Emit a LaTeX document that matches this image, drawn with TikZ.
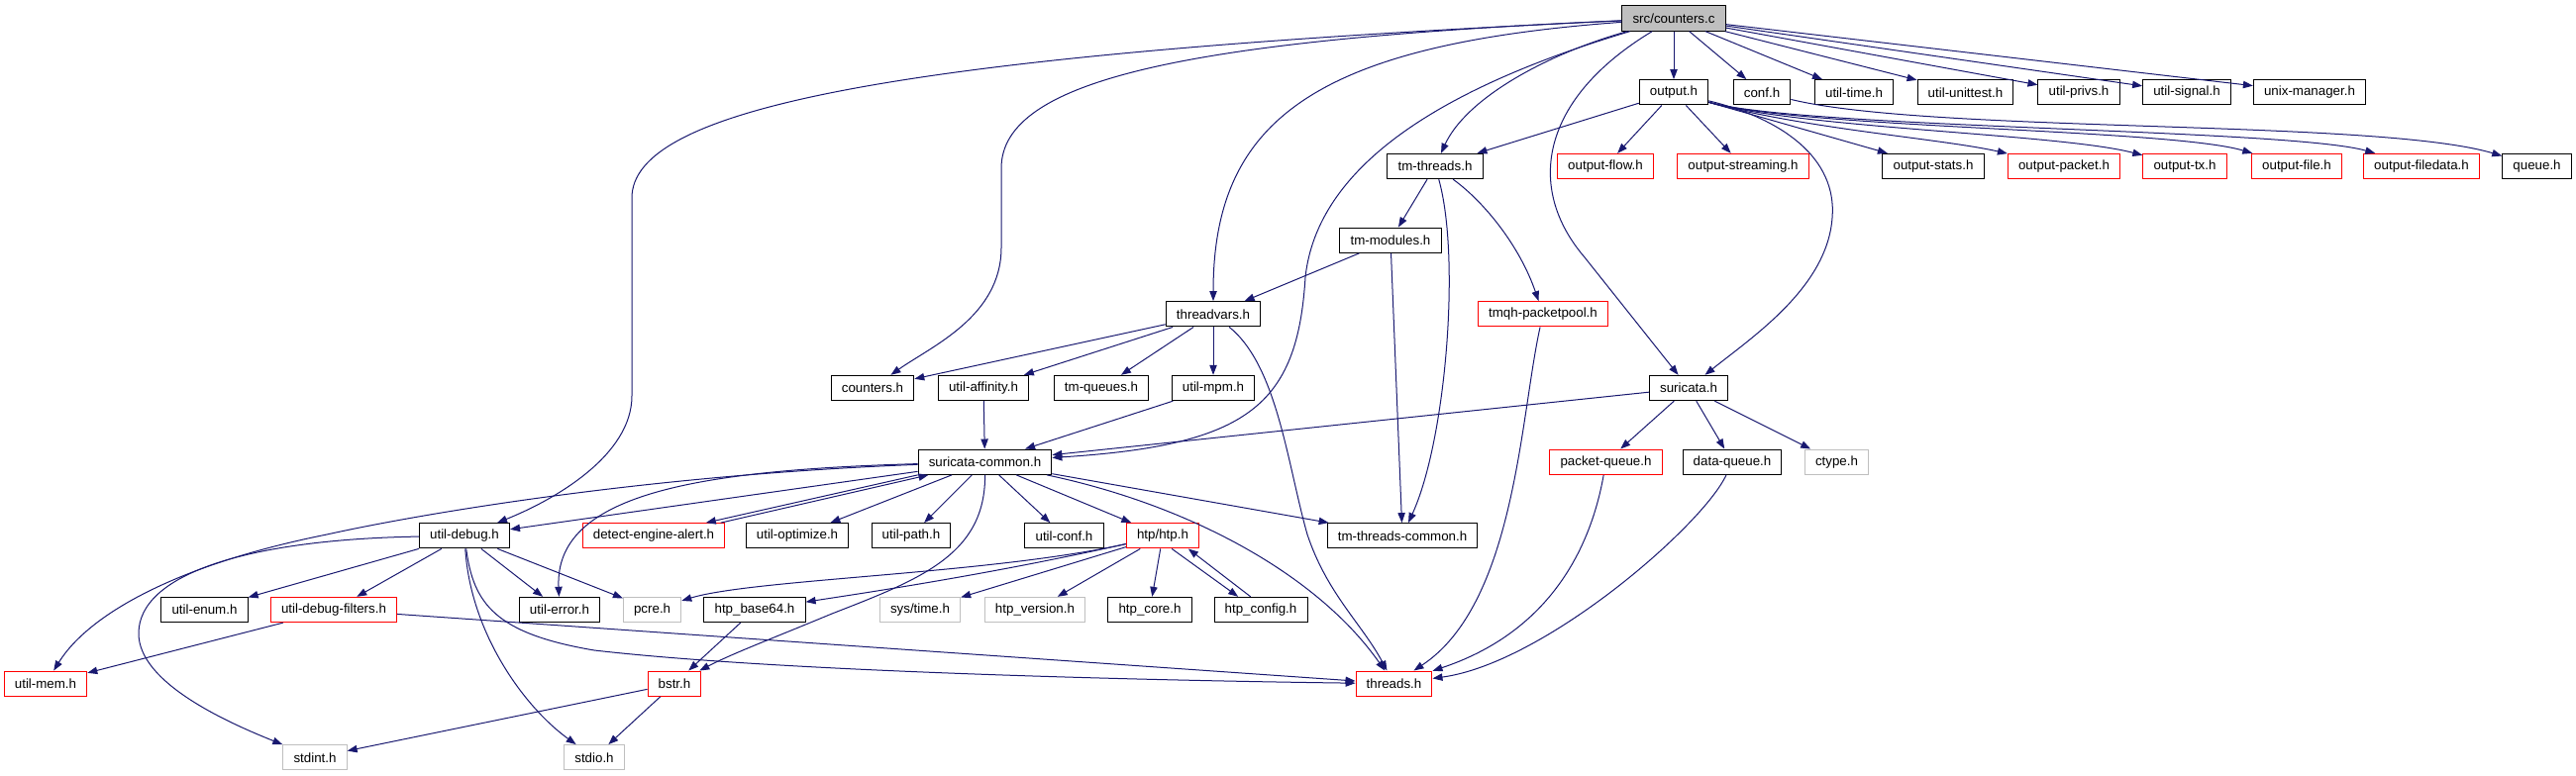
\documentclass[tikz,border=0pt]{standalone}
\usepackage{fontspec}
\setmainfont{Liberation Sans}
\usetikzlibrary{arrows.meta}
\definecolor{incblue}{HTML}{191970}
\definecolor{sysgray}{HTML}{BFBFBF}
\tikzset{
  hdr/.style={draw=black, line width=0.75pt, rectangle, minimum height=19pt,
    inner xsep=8pt, inner ysep=0pt, font=\fontsize{10}{12}\selectfont},
  hdrred/.style={hdr, draw=red},
  hdrsys/.style={hdr, draw=sysgray},
  inc/.style={incblue, line width=0.75pt, -{Triangle[length=7.5pt,width=5.5pt]}}
}
\begin{document}
\begin{tikzpicture}[x=0.75pt, y=-0.75pt]
\fill[white] (0,0) rectangle (2601,784);
\node[hdr, fill=sysgray] (root) at (1690,18.5) {src/counters.c};
\foreach \n/\x/\y/\t in {output/1690/93.3/{output.h}, conf/1779/93.3/{conf.h},
  utiltime/1872/93.3/{util-time.h}, unittest/1984.5/93.3/{util-unittest.h},
  privs/2099/93.3/{util-privs.h}, signal/2208/93.3/{util-signal.h},
  unixmgr/2332/93.3/{unix-manager.h}, tmthreads/1449/168/{tm-threads.h},
  ostats/1952/168/{output-stats.h}, queue/2561.5/168/{queue.h},
  tmmodules/1404/242.7/{tm-modules.h}, threadvars/1225/317.3/{threadvars.h},
  countersh/881/392/{counters.h}, affinity/993/392/{util-affinity.h},
  tmqueues/1112/392/{tm-queues.h}, mpm/1225/392/{util-mpm.h},
  suricata/1705/392/{suricata.h}, common/994.5/466.7/{suricata-common.h},
  dataqueue/1749/466.7/{data-queue.h}, debug/469/541.3/{util-debug.h},
  optimize/805/541.3/{util-optimize.h}, path/920/541.3/{util-path.h},
  utilconf/1074.5/541.3/{util-conf.h}, tmcommon/1416/541.3/{tm-threads-common.h},
  enum/206.5/616/{util-enum.h}, error/565/616/{util-error.h},
  base64/762/616/{htp\_base64.h}, core/1161/616/{htp\_core.h},
  config/1273/616/{htp\_config.h}}
  \node[hdr] (\n) at (\x,\y) {\t};
\foreach \n/\x/\y/\t in {oflow/1621/168/{output-flow.h}, ostream/1760/168/{output-streaming.h},
  opacket/2084/168/{output-packet.h}, otx/2206/168/{output-tx.h},
  ofile/2319/168/{output-file.h}, ofiledata/2445/168/{output-filedata.h},
  packetpool/1558/317.3/{tmqh-packetpool.h}, pktqueue/1621.5/466.7/{packet-queue.h},
  alert/660/541.3/{detect-engine-alert.h}, htp/1174/541.3/{htp/htp.h},
  filters/337/616/{util-debug-filters.h}, mem/46/690.7/{util-mem.h},
  bstr/681/690.7/{bstr.h}, threads/1407.5/690.7/{threads.h}}
  \node[hdrred] (\n) at (\x,\y) {\t};
\foreach \n/\x/\y/\t in {ctype/1854.5/466.7/{ctype.h}, pcre/658.6/616/{pcre.h},
  systime/929/616/{sys/time.h}, version/1045/616/{htp\_version.h},
  stdint/318/765.3/{stdint.h}, stdio/600/765.3/{stdio.h}}
  \node[hdrsys] (\n) at (\x,\y) {\t};

\foreach \a/\b in {root/output, root/conf, root/utiltime, root/unittest, root/privs,
  root/signal, root/unixmgr, output/tmthreads, output/oflow, output/ostream, output/ostats,
  tmthreads/tmmodules, tmmodules/threadvars, tmmodules/tmcommon,
  threadvars/countersh, threadvars/affinity, threadvars/tmqueues, threadvars/mpm,
  affinity/common, mpm/common, suricata/common, suricata/pktqueue,
  suricata/dataqueue, suricata/ctype, common/debug, common/optimize, common/path,
  common/utilconf, common/htp, common/tmcommon, htp/systime, htp/version, htp/core,
  debug/enum, debug/filters, debug/error, debug/pcre, filters/mem, filters/threads,
  base64/bstr, bstr/stdint, bstr/stdio}
  \draw[inc] (\a) -- (\b);

\draw[inc] (root) .. controls (900,55) and (638,110) .. (638,200) -- (638,400)
  .. controls (638,460) and (560,505) .. (debug);
\draw[inc] (root) .. controls (1200,40) and (1011,80) .. (1011,170) -- (1011,250)
  .. controls (1011,320) and (940,350) .. (countersh);
\draw[inc] (root) .. controls (1330,45) and (1225,120) .. (threadvars);
\draw[inc] (root) .. controls (1450,90) and (1330,170) .. (1318,280)
  .. controls (1310,410) and (1260,450) .. (common);
\draw[inc] (root) .. controls (1560,55) and (1480,100) .. (tmthreads);
\draw[inc] (root) .. controls (1555,100) and (1540,190) .. (1600,260) -- (suricata);

\draw[inc] (output) .. controls (1820,130) and (1960,140) .. (opacket);
\draw[inc] (output) .. controls (1820,130) and (2080,135) .. (otx);
\draw[inc] (output) .. controls (1820,130) and (2190,130) .. (ofile);
\draw[inc] (output) .. controls (1820,130) and (2310,130) .. (ofiledata);
\draw[inc] (conf) .. controls (1950,135) and (2400,120) .. (queue);
\draw[inc] (output) .. controls (1800,120) and (1855,160) .. (1850,220)
  .. controls (1845,290) and (1770,340) .. (suricata);

\draw[inc] (tmthreads) .. controls (1475,260) and (1460,445) .. (tmcommon);
\draw[inc] (tmthreads) .. controls (1500,205) and (1535,250) .. (packetpool);
\draw[inc] (threadvars) .. controls (1290,370) and (1300,470) .. (1320,540)
  .. controls (1340,600) and (1375,630) .. (threads);
\draw[inc] (packetpool) .. controls (1535,420) and (1530,610) .. (threads);
\draw[inc] (pktqueue) .. controls (1605,560) and (1560,640) .. (threads);
\draw[inc] (dataqueue) .. controls (1720,530) and (1560,670) .. (threads);

\draw[inc] (common) .. controls (1200,510) and (1330,580) .. (threads);
\draw[inc] (common) .. controls (650,480) and (420,520) .. (330,540)
  .. controls (180,570) and (90,620) .. (mem);
\draw[inc] (common) .. controls (700,475) and (560,500) .. (error);
\draw[inc] (common) .. controls (995,560) and (930,585) .. (840,620)
  .. controls (780,645) and (740,660) .. (bstr);
\draw[inc] (common.south west) -- (alert.14);
\draw[inc] (alert.11) -- (common.193);

\draw[inc] (htp) .. controls (1000,580) and (760,585) .. (pcre);
\draw[inc] (htp) .. controls (1000,580) and (880,598) .. (base64);
\draw[inc] (htp.-55) -- (config.150);
\draw[inc] (config.128) -- (htp.-27);

\draw[inc] (debug) .. controls (250,545) and (140,580) .. (140,640)
  .. controls (140,690) and (230,730) .. (stdint);
\draw[inc] (debug) .. controls (475,640) and (530,715) .. (stdio);
\draw[inc] (debug) .. controls (478,610) and (500,640) .. (600,657)
  .. controls (800,680) and (1200,688) .. (threads);
\end{tikzpicture}
\end{document}
